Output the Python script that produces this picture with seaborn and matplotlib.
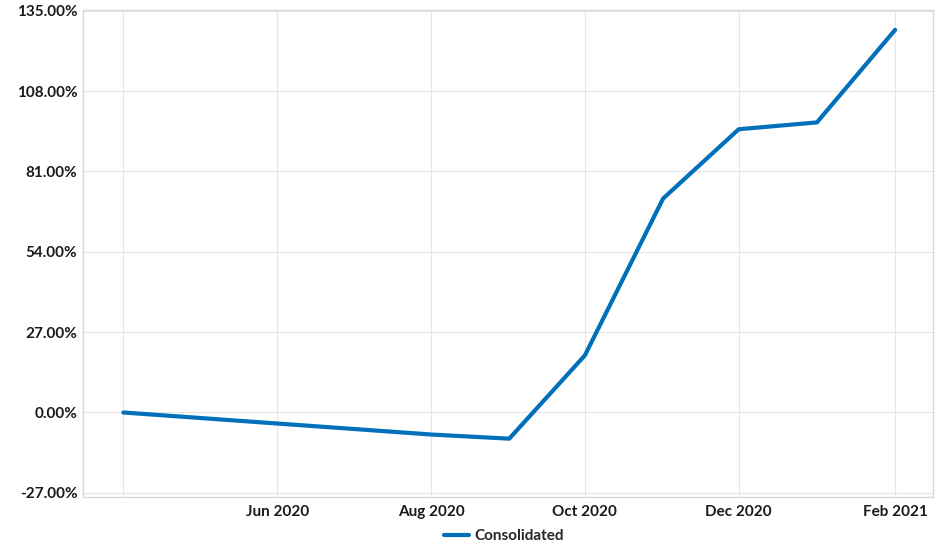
import pandas as pd
import matplotlib.pyplot as plt
import seaborn as sns

sns.set_style("white")
plt.rcParams['font.family'] = ['Lato', 'DejaVu Sans']

# Datos
months = ["2020-04-01", "2020-06-01", "2020-08-01", "2020-09-01", "2020-10-01",
          "2020-11-01", "2020-12-01", "2021-01-01", "2021-02-01"]
returns = [0.0, -3.7, -7.4, -8.8, 19.2, 71.9, 95.2, 97.5, 128.6]
series_name = "Consolidated"

tick_months = ["2020-04-01", "2020-06-01", "2020-08-01", "2020-10-01", "2020-12-01", "2021-02-01"]
tick_labels = ["", "Jun 2020", "Aug 2020", "Oct 2020", "Dec 2020", "Feb 2021"]
y_ticks = [-27, 0, 27, 54, 81, 108, 135]

df = pd.DataFrame({"date": pd.to_datetime(months), "value": returns, "serie": series_name})

fig = plt.figure(figsize=(9.44, 5.51), dpi=100)
ax = fig.add_axes([0.0879, 0.098, 0.9004, 0.884])

sns.lineplot(data=df, x="date", y="value", hue="serie", palette=["#0070ba"],
             linewidth=3.0, ax=ax, legend=False)

ax.set_xlim(pd.Timestamp("2020-03-16"), pd.Timestamp("2021-02-16"))
ax.set_ylim(-28.4, 135.3)
ax.set_xticks(pd.to_datetime(tick_months))
ax.set_xticklabels(tick_labels)
ax.set_yticks(y_ticks)
ax.set_yticklabels([f"{v:.2f}%" for v in y_ticks])

ax.grid(True, color="#e6e6e6", linewidth=0.8)
for s in ax.spines.values():
    s.set_color("#d8d8d8")
    s.set_linewidth(1.0)
ax.tick_params(axis="x", length=4, color="#e6e6e6", pad=2, labelsize=11, labelcolor="#1a1a1a")
ax.tick_params(axis="y", length=0, pad=4, labelsize=11, labelcolor="#1a1a1a")
for lbl in ax.get_xticklabels() + ax.get_yticklabels():
    lbl.set_fontweight("bold")
ax.set_xlabel("")
ax.set_ylabel("")

handle = plt.Line2D([], [], color="#0070ba", linewidth=3.0)
fig.legend([handle], [series_name], loc="center", bbox_to_anchor=(0.534, 0.027),
           frameon=False, handlelength=1.6, handletextpad=0.4,
           prop={"weight": "bold", "size": 11})

fig.savefig("out.png", dpi=100)
